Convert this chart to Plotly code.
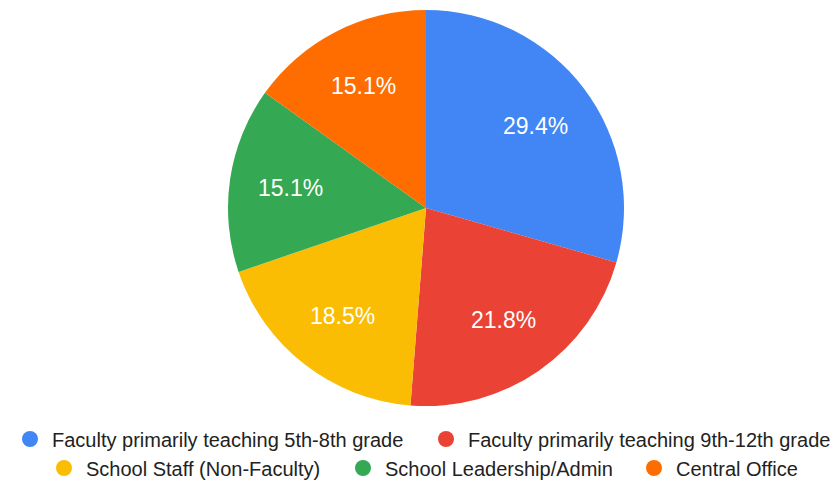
import math
import plotly.graph_objects as go

labels = ["Faculty primarily teaching 5th-8th grade",
          "Faculty primarily teaching 9th-12th grade",
          "School Staff (Non-Faculty)",
          "School Leadership/Admin",
          "Central Office"]
values = [29.4, 21.8, 18.5, 15.1, 15.1]
colors = ["#4285F4", "#EA4335", "#FBBC04", "#34A853", "#FF6D01"]

# legend entry placement (symbol centre x, row centre y) in pixels
legend_pos = [(28, 439), (444, 439), (62, 468), (361, 468), (652, 468)]

FONT = "Arial, Liberation Sans, sans-serif"
W, H = 839, 481
# pie geometry in pixels
CX, CY, R = 426, 208, 198
LABEL_R = 0.69

fig = go.Figure()
fig.add_trace(go.Pie(
    labels=labels, values=values, sort=False, direction="clockwise", rotation=0,
    marker=dict(colors=colors, line=dict(width=0)),
    textinfo="none",
    showlegend=False, hoverinfo="label+percent",
    domain=dict(x=[(CX - R) / W, (CX + R) / W], y=[1 - (CY + R) / H, 1 - (CY - R) / H]),
))

# slice labels placed along each slice's bisector (Google-Charts style)
total = sum(values)
annotations = []
cum = 0.0
for v in values:
    frac = v / total
    theta = 2 * math.pi * (cum + frac / 2)
    cum += frac
    px = CX + LABEL_R * R * math.sin(theta)
    py = CY - LABEL_R * R * math.cos(theta)
    annotations.append(dict(
        x=px / W, y=1 - py / H, xref="paper", yref="paper",
        text=f"{frac * 100:.1f}%", showarrow=False,
        xanchor="center", yanchor="middle",
        font=dict(color="white", size=23, family=FONT),
    ))

layout_legends = {}
for i, (lab, col, (px, py)) in enumerate(zip(labels, colors, legend_pos)):
    lname = "legend" if i == 0 else f"legend{i+1}"
    fig.add_trace(go.Scatter(
        x=[None], y=[None], mode="markers", name=lab, legend=lname,
        marker=dict(symbol="circle", size=20, color=col), showlegend=True,
    ))
    layout_legends[lname] = dict(
        orientation="h", xanchor="left", x=(px - 20) / W,
        yanchor="middle", y=1 - py / H, itemwidth=34,
        font=dict(size=20, family=FONT, color="#222222"),
        bgcolor="rgba(0,0,0,0)", itemclick=False, itemdoubleclick=False,
    )

fig.update_layout(
    width=W, height=H,
    margin=dict(l=0, r=0, t=0, b=0, autoexpand=False),
    paper_bgcolor="white", plot_bgcolor="white",
    xaxis=dict(visible=False), yaxis=dict(visible=False),
    annotations=annotations,
    **layout_legends,
)
fig.write_html("out.html", config={"displayModeBar": False},
               post_script="document.body.style.margin='0';document.body.style.padding='0';")
